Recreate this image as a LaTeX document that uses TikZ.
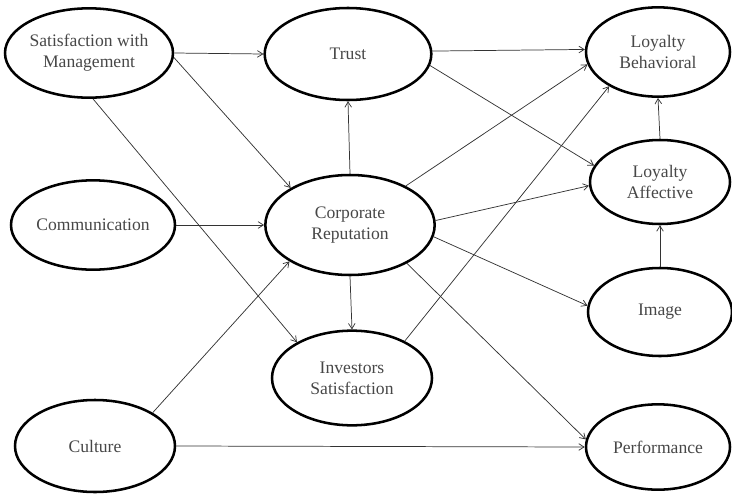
\documentclass[tikz,border=0pt]{standalone}
\usepackage{fontspec}
\setmainfont{Liberation Serif}
\usetikzlibrary{shapes.geometric,arrows.meta}
\begin{document}
\begin{tikzpicture}[x=0.75pt,y=-0.75pt,
  ell/.style={ellipse, draw, line width=1.9pt, inner sep=0pt, align=center,
    font=\fontsize{13.2}{15.5}\selectfont, text=black!72},
  arr/.style={-{Straight Barb[length=4pt,width=5pt]}, line width=0.55pt, black!80}]
\useasboundingbox (0,0) rectangle (732,493);
\node[ell, minimum width=121pt, minimum height=67pt] (sm) at (89,53) {Satisfaction with\\Management};
\node[ell, minimum width=125pt, minimum height=69pt] (tr) at (348,54) {Trust};
\node[ell, minimum width=108pt, minimum height=67pt] (lb) at (658,52) {Loyalty\\Behavioral};
\node[ell, minimum width=105pt, minimum height=63pt] (la) at (660,182) {Loyalty\\Affective};
\node[ell, minimum width=127pt, minimum height=75pt] (cr) at (350,225) {Corporate\\Reputation};
\node[ell, minimum width=123pt, minimum height=67pt] (co) at (93,225) {Communication};
\node[ell, minimum width=120pt, minimum height=71pt] (inv) at (352,378) {Investors\\Satisfaction};
\node[ell, minimum width=108pt, minimum height=66pt] (img) at (660,312) {Image};
\node[ell, minimum width=120pt, minimum height=69pt] (cu) at (95,446) {Culture};
\node[ell, minimum width=108pt, minimum height=64pt] (pf) at (658,447) {Performance};

\draw[arr] (sm.east) -- (tr.west);
\draw[arr] (sm.-3) -- (cr.148);
\draw[arr] (sm.-85) -- (inv.147);
\draw[arr] (co.east) -- (cr.west);
\draw[arr] (cu.30) -- (cr.211);
\draw[arr] (cu.east) -- (pf.west);
\draw[arr] (tr.2) -- (lb.178);
\draw[arr] (tr.-8) -- (la.166);
\draw[arr] (cr.north) -- (tr.south);
\draw[arr] (cr.south) -- (inv.north);
\draw[arr] (cr.35) -- (lb.190);
\draw[arr] (cr.3) -- (la.183);
\draw[arr] (cr.-8) -- (img.175);
\draw[arr] (cr.-34) -- (pf.174);
\draw[arr] (inv.35) -- (lb.215);
\draw[arr] (la.north) -- (lb.south);
\draw[arr] (img.north) -- (la.south);
\end{tikzpicture}
\end{document}
